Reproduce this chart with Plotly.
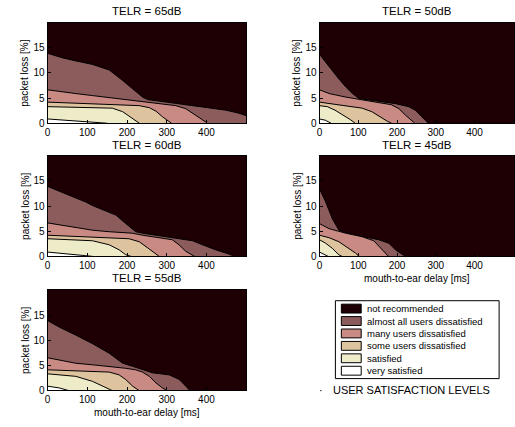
import plotly.graph_objects as go

W, H = 515, 427

# ---------------- data ----------------
levels = ["not recommended", "almost all users dissatisfied", "many users dissatisfied",
          "some users dissatisfied", "satisfied", "very satisfied"]
level_colors = ["#1e0004", "#8c5c5c", "#c98a84", "#dec49e", "#eeecc8", "#ffffff"]

panel_titles = ["TELR = 65dB", "TELR = 50dB", "TELR = 60dB", "TELR = 45dB", "TELR = 55dB"]
x_ticks = [0, 100, 200, 300, 400]
y_ticks = [0, 5, 10, 15]

# boundaries: packet loss [%] (upper edge of each level) vs mouth-to-ear delay [ms]
# TELR = 65 dB
t65_almost_x = [0, 38, 71, 113, 147, 155, 189, 214, 239, 252, 281, 323, 365, 407, 449, 482, 500]
t65_almost_y = [13.9, 13.0, 12.4, 11.7, 10.8, 10.6, 8.5, 6.8, 5.2, 4.7, 4.4, 3.9, 3.5, 3.1, 2.6, 2.0, 1.5]
t65_many_x = [0, 29, 71, 113, 155, 197, 239, 281, 323, 348, 373, 390, 403]
t65_many_y = [6.65, 6.3, 5.9, 5.5, 5.1, 4.7, 4.2, 3.9, 3.5, 2.9, 1.6, 0.65, 0]
t65_some_x = [0, 71, 155, 197, 231, 256, 273, 289, 306, 312]
t65_some_y = [4.2, 4.0, 3.8, 3.7, 3.5, 3.1, 2.4, 1.3, 0.3, 0]
t65_sat_x = [0, 71, 130, 163, 189, 214, 231]
t65_sat_y = [3.3, 3.2, 3.1, 3.0, 2.3, 1.0, 0]
t65_very_x = [0, 50, 100, 150]
t65_very_y = [0.85, 0.6, 0.3, 0]

# TELR = 60 dB
t60_almost_x = [0, 29, 71, 96, 113, 155, 172, 197, 222, 239, 281, 323, 365, 390, 423, 457, 470]
t60_almost_y = [13.9, 13.0, 11.7, 10.8, 10.1, 8.8, 8.2, 6.5, 4.9, 4.6, 4.1, 3.6, 3.1, 2.3, 1.3, 0.45, 0]
t60_many_x = [0, 71, 113, 155, 214, 239, 281, 314, 331, 348, 370]
t60_many_y = [6.65, 5.7, 5.2, 4.9, 4.6, 4.2, 3.7, 3.3, 2.3, 1.0, 0]
t60_some_x = [0, 71, 155, 205, 231, 247, 264, 281]
t60_some_y = [4.2, 4.0, 3.7, 3.5, 2.9, 2.0, 1.0, 0]
t60_sat_x = [0, 71, 113, 155, 180, 197, 210]
t60_sat_y = [3.5, 3.3, 3.1, 2.3, 1.3, 0.3, 0]
t60_very_x = [0, 71, 113]
t60_very_y = [0.85, 0.33, 0]

# TELR = 55 dB
t55_almost_x = [0, 29, 71, 113, 155, 189, 214, 239, 264, 306, 331, 348, 358]
t55_almost_y = [13.9, 12.6, 11.0, 9.3, 7.4, 5.4, 4.8, 4.1, 3.5, 3.1, 2.2, 0.85, 0]
t55_many_x = [0, 71, 113, 155, 197, 222, 239, 256, 273, 289, 300]
t55_many_y = [6.5, 5.4, 5.1, 4.8, 4.4, 4.1, 3.65, 2.8, 1.5, 0.5, 0]
t55_some_x = [0, 71, 155, 180, 197, 214, 230]
t55_some_y = [4.1, 3.9, 3.65, 3.1, 2.15, 0.85, 0]
t55_sat_x = [0, 38, 71, 113, 138, 162]
t55_sat_y = [3.3, 3.1, 2.8, 1.8, 0.85, 0]
t55_very_x = [0, 29, 52]
t55_very_y = [0.85, 0.5, 0]

# TELR = 50 dB
t50_almost_x = [0, 16, 33, 50, 68, 85, 102, 153, 196, 230, 247, 264, 281]
t50_almost_y = [13.7, 12.1, 10.4, 8.8, 7.2, 5.9, 4.9, 4.4, 3.9, 3.3, 2.6, 1.3, 0]
t50_many_x = [0, 25, 68, 110, 153, 185, 205, 222, 236, 246]
t50_many_y = [6.65, 5.9, 5.2, 4.6, 4.1, 3.7, 2.9, 1.6, 0.65, 0]
t50_some_x = [0, 25, 68, 110, 135, 155, 175, 186]
t50_some_y = [4.2, 3.9, 3.5, 3.0, 2.3, 1.3, 0.4, 0]
t50_sat_x = [0, 20, 40, 60, 80, 92]
t50_sat_y = [3.5, 3.3, 2.6, 1.7, 0.7, 0]
t50_very_x = [0, 15, 30]
t50_very_y = [0.85, 0.6, 0]

# TELR = 45 dB
t45_almost_x = [0, 16, 33, 50, 68, 110, 153, 179, 196, 213, 222]
t45_almost_y = [13.4, 10.8, 7.5, 5.2, 4.6, 3.9, 3.3, 2.6, 1.3, 0.4, 0]
t45_many_x = [0, 25, 68, 110, 140, 153, 170, 178]
t45_many_y = [6.5, 5.5, 4.6, 3.9, 3.1, 2.0, 0.65, 0]
t45_some_x = [0, 25, 50, 76, 93, 102]
t45_some_y = [4.2, 3.7, 2.9, 1.6, 0.65, 0]
t45_sat_x = [0, 16, 33, 50, 58]
t45_sat_y = [3.3, 2.6, 1.6, 0.3, 0]
t45_very_x = [0, 10, 22]
t45_very_y = [0.85, 0.5, 0]

panels = [
    [(t65_almost_x, t65_almost_y), (t65_many_x, t65_many_y), (t65_some_x, t65_some_y),
     (t65_sat_x, t65_sat_y), (t65_very_x, t65_very_y)],
    [(t50_almost_x, t50_almost_y), (t50_many_x, t50_many_y), (t50_some_x, t50_some_y),
     (t50_sat_x, t50_sat_y), (t50_very_x, t50_very_y)],
    [(t60_almost_x, t60_almost_y), (t60_many_x, t60_many_y), (t60_some_x, t60_some_y),
     (t60_sat_x, t60_sat_y), (t60_very_x, t60_very_y)],
    [(t45_almost_x, t45_almost_y), (t45_many_x, t45_many_y), (t45_some_x, t45_some_y),
     (t45_sat_x, t45_sat_y), (t45_very_x, t45_very_y)],
    [(t55_almost_x, t55_almost_y), (t55_many_x, t55_many_y), (t55_some_x, t55_some_y),
     (t55_sat_x, t55_sat_y), (t55_very_x, t55_very_y)],
]

# ---------------- layout geometry (pixels) ----------------
def px(x):
    return x / W

def py(y):
    return 1 - y / H

col_x = [(45, 245), (319, 515)]
row_y = [(23, 125), (158, 260), (294, 396)]
cells = [(0, 0), (1, 0), (0, 1), (1, 1), (0, 2)]  # (col,row) per panel
title_y = [11, 147, 282]

FONT = "Liberation Sans, Arial, sans-serif"
fig = go.Figure()
layout = dict(width=W, height=H, margin=dict(l=0, r=0, t=0, b=0),
              paper_bgcolor="white", plot_bgcolor="white", showlegend=False,
              font=dict(family=FONT, size=10, color="black"))
annotations = []
shapes = []

for i, (bounds, (c, r)) in enumerate(zip(panels, cells)):
    n = i + 1
    xa = "x" if n == 1 else f"x{n}"
    ya = "y" if n == 1 else f"y{n}"
    xr = [0, 500] if c == 0 else [0, 502]
    # background: not recommended
    fig.add_trace(go.Scatter(x=[xr[0], xr[1]], y=[20, 20], mode="lines", fill="tozeroy",
                             fillcolor=level_colors[0], line=dict(width=0, color=level_colors[0]),
                             xaxis=xa, yaxis=ya, hoverinfo="skip"))
    for k, (bx, by) in enumerate(bounds):
        fig.add_trace(go.Scatter(x=bx, y=by, mode="lines", fill="tozeroy",
                                 fillcolor=level_colors[k + 1],
                                 line=dict(width=1, color="black"),
                                 xaxis=xa, yaxis=ya, hoverinfo="skip"))
    x0, x1 = col_x[c]
    y0, y1 = row_y[r]
    layout["xaxis" if n == 1 else f"xaxis{n}"] = dict(
        domain=[px(x0), px(x1)], range=xr, anchor=ya, tickvals=x_ticks,
        ticks="inside", ticklen=3, tickcolor="black", showgrid=False, zeroline=False,
        showline=True, linecolor="black", linewidth=1, mirror=True,
        tickfont=dict(size=10, family=FONT))
    layout["yaxis" if n == 1 else f"yaxis{n}"] = dict(
        domain=[py(y1), py(y0)], range=[0, 20], anchor=xa, tickvals=y_ticks,
        ticks="inside", ticklen=3, tickcolor="black", showgrid=False, zeroline=False,
        showline=True, linecolor="black", linewidth=1, mirror=True,
        tickfont=dict(size=10, family=FONT))
    cx = (x0 + 200 / 2) if c == 0 else (x0 + 98)
    annotations.append(dict(text=panel_titles[i], x=px(cx), y=py(title_y[r]), xref="paper",
                            yref="paper", showarrow=False, xanchor="center", yanchor="middle",
                            font=dict(size=11.5, family=FONT)))
    annotations.append(dict(text="packet loss [%]", x=px(x0 - 23), y=py((y0 + y1) / 2),
                            xref="paper", yref="paper", showarrow=False, textangle=-90,
                            xanchor="center", yanchor="middle", font=dict(size=10, family=FONT)))

# x axis labels
annotations.append(dict(text="mouth-to-ear delay [ms]", x=px(145), y=py(418), xref="paper",
                        yref="paper", showarrow=False, xanchor="center", yanchor="middle",
                        font=dict(size=10, family=FONT)))
annotations.append(dict(text="mouth-to-ear delay [ms]", x=px(417), y=py(282), xref="paper",
                        yref="paper", showarrow=False, xanchor="center", yanchor="middle",
                        font=dict(size=10, family=FONT)))

# manual legend
shapes.append(dict(type="rect", xref="paper", yref="paper", x0=px(335), x1=px(500),
                   y0=py(384), y1=py(305), line=dict(color="black", width=1),
                   fillcolor="white", layer="above"))
row_pitch = 12.6
for j, (lab, col) in enumerate(zip(levels, level_colors)):
    cy = 313 + j * row_pitch
    shapes.append(dict(type="rect", xref="paper", yref="paper", x0=px(341), x1=px(361),
                       y0=py(cy + 4.5), y1=py(cy - 4.5), line=dict(color="black", width=1),
                       fillcolor=col, layer="above"))
    annotations.append(dict(text=lab, x=px(365), y=py(cy), xref="paper", yref="paper",
                            showarrow=False, xanchor="left", yanchor="middle",
                            font=dict(size=9.5, family=FONT)))
annotations.append(dict(text="USER SATISFACTION LEVELS", x=px(331), y=py(396), xref="paper",
                        yref="paper", showarrow=False, xanchor="left", yanchor="middle",
                        font=dict(size=11, family=FONT)))
annotations.append(dict(text="\u00b7", x=px(320), y=py(396), xref="paper",
                        yref="paper", showarrow=False, xanchor="center", yanchor="middle",
                        font=dict(size=11, family=FONT)))

layout["annotations"] = annotations
layout["shapes"] = shapes
fig.update_layout(**layout)
fig.write_html("out.html")
